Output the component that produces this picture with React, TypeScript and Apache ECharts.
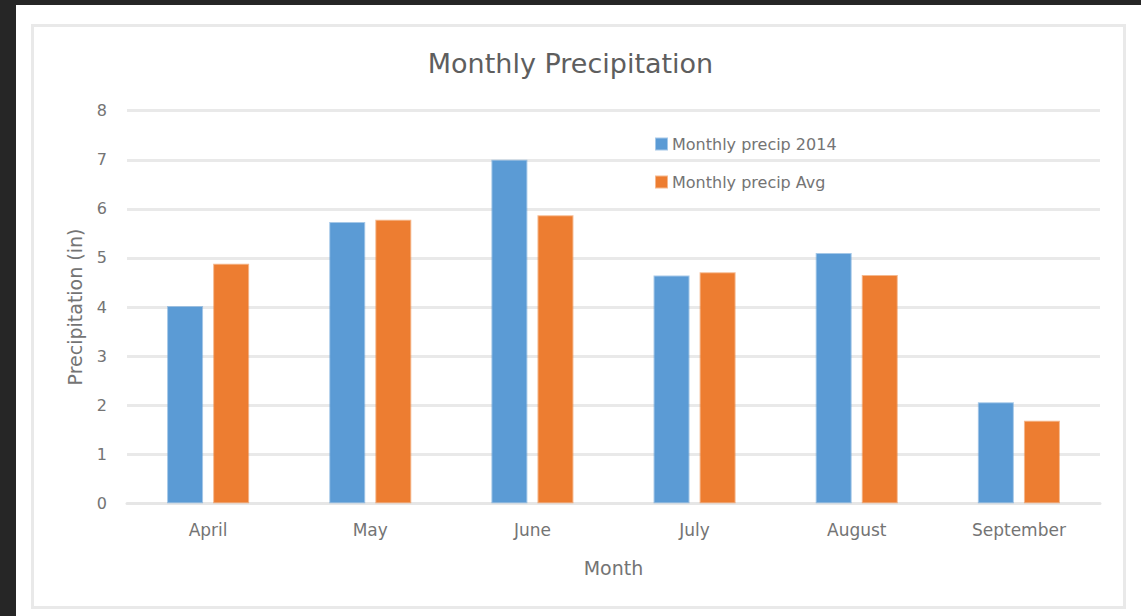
import React, { useEffect, useRef } from "react";
import * as echarts from "echarts";

const months = ["April", "May", "June", "July", "August", "September"];
const precip2014 = [4.02, 5.73, 7.0, 4.64, 5.1, 2.06];
const precipAvg = [4.88, 5.78, 5.87, 4.71, 4.65, 1.68];
const seriesNames = ["Monthly precip 2014", "Monthly precip Avg"];
const titleText = "Monthly Precipitation";
const xAxisName = "Month";
const yAxisName = "Precipitation (in)";

const FONT = "DejaVu Sans";

export default function App() {
  const ref = useRef<HTMLDivElement>(null);

  useEffect(() => {
    document.body.style.margin = "0";
    document.body.style.background = "#262626";
    if (!ref.current) return;
    const chart = echarts.init(ref.current, undefined, { renderer: "svg" });
    chart.setOption({
      animation: false,
      backgroundColor: "transparent",
      title: {
        text: titleText,
        left: "center",
        top: 45,
        textStyle: {
          fontFamily: FONT,
          fontSize: 27,
          fontWeight: "normal",
          color: "#5e5e5e",
        },
      },
      legend: {
        orient: "vertical",
        left: 650,
        top: 131,
        itemWidth: 11,
        itemHeight: 11,
        itemGap: 22,
        icon: "rect",
        textStyle: { fontFamily: FONT, fontSize: 16, color: "#747474" },
        data: seriesNames,
      },
      grid: { left: 127, right: 41, top: 110.7, bottom: 112.7, containLabel: false },
      xAxis: {
        type: "category",
        data: months,
        name: xAxisName,
        nameLocation: "middle",
        nameGap: 55,
        nameTextStyle: { fontFamily: FONT, fontSize: 19, color: "#747474" },
        axisLine: { lineStyle: { color: "#e6e6e6", width: 3 } },
        axisTick: { show: false },
        axisLabel: { fontFamily: FONT, fontSize: 17, color: "#747474", margin: 18 },
      },
      yAxis: {
        type: "value",
        min: 0,
        max: 8,
        interval: 1,
        name: yAxisName,
        nameLocation: "middle",
        nameGap: 43,
        nameTextStyle: { fontFamily: FONT, fontSize: 19, color: "#747474" },
        axisLine: { show: false },
        axisTick: { show: false },
        axisLabel: { fontFamily: FONT, fontSize: 16, color: "#747474", margin: 20 },
        splitLine: { lineStyle: { color: "#e9e9e9", width: 3 } },
      },
      series: [
        {
          name: seriesNames[0],
          type: "bar",
          data: precip2014,
          barWidth: 36,
          barGap: "28%",
          itemStyle: {
            color: "#5b9bd5",
            borderColor: "rgba(91,155,213,0.55)",
            borderWidth: 2,
          },
        },
        {
          name: seriesNames[1],
          type: "bar",
          data: precipAvg,
          barWidth: 36,
          barGap: "28%",
          itemStyle: {
            color: "#ed7d31",
            borderColor: "rgba(237,125,49,0.55)",
            borderWidth: 2,
          },
        },
      ],
    });
    return () => chart.dispose();
  }, []);

  return (
    <div style={{ position: "relative", width: 1141, height: 616, background: "#262626", overflow: "hidden" }}>
      <div style={{ position: "absolute", left: 16, top: 5, right: 0, bottom: 0, background: "#ffffff" }} />
      <div
        style={{
          position: "absolute",
          left: 31,
          top: 24,
          width: 1095,
          height: 585,
          border: "3px solid #e9e9e9",
          boxSizing: "border-box",
        }}
      />
      <div ref={ref} style={{ position: "absolute", left: 0, top: 0, width: 1141, height: 616 }} />
    </div>
  );
}
